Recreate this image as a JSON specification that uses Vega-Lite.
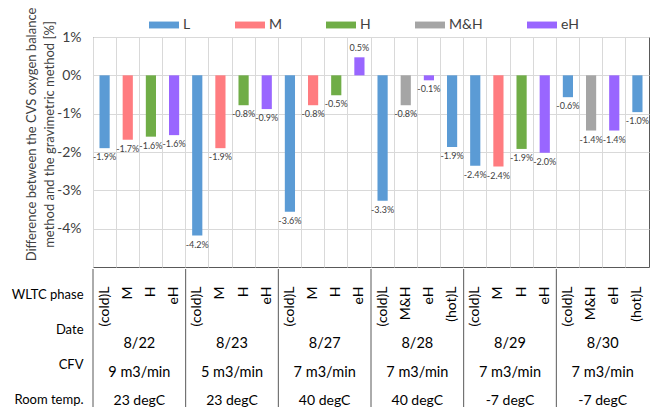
{
  "$schema": "https://vega.github.io/schema/vega-lite/v6.json",
  "padding": {"left": 11, "top": 6, "right": 5, "bottom": 0},
  "config": {
    "font": "Lato",
    "locale": {"number": {"decimal": ".", "thousands": ",", "grouping": [3], "currency": ["$", ""], "minus": "-"}},
    "view": {"stroke": "#595959", "strokeWidth": 1},
    "concat": {"spacing": 0}
  },
  "datasets": {
    "bars": [
      {"key": "8/22 (cold)L", "date": "8/22", "phase": "(cold)L", "cat": "L", "value": -0.0190},
      {"key": "8/22 M", "date": "8/22", "phase": "M", "cat": "M", "value": -0.0168},
      {"key": "8/22 H", "date": "8/22", "phase": "H", "cat": "H", "value": -0.0160},
      {"key": "8/22 eH", "date": "8/22", "phase": "eH", "cat": "eH", "value": -0.0156},
      {"key": "8/23 (cold)L", "date": "8/23", "phase": "(cold)L", "cat": "L", "value": -0.0418},
      {"key": "8/23 M", "date": "8/23", "phase": "M", "cat": "M", "value": -0.0190},
      {"key": "8/23 H", "date": "8/23", "phase": "H", "cat": "H", "value": -0.0078},
      {"key": "8/23 eH", "date": "8/23", "phase": "eH", "cat": "eH", "value": -0.0088},
      {"key": "8/27 (cold)L", "date": "8/27", "phase": "(cold)L", "cat": "L", "value": -0.0356},
      {"key": "8/27 M", "date": "8/27", "phase": "M", "cat": "M", "value": -0.0078},
      {"key": "8/27 H", "date": "8/27", "phase": "H", "cat": "H", "value": -0.0052},
      {"key": "8/27 eH", "date": "8/27", "phase": "eH", "cat": "eH", "value": 0.0047},
      {"key": "8/28 (cold)L", "date": "8/28", "phase": "(cold)L", "cat": "L", "value": -0.0327},
      {"key": "8/28 M&H", "date": "8/28", "phase": "M&H", "cat": "M&H", "value": -0.0078},
      {"key": "8/28 eH", "date": "8/28", "phase": "eH", "cat": "eH", "value": -0.0013},
      {"key": "8/28 (hot)L", "date": "8/28", "phase": "(hot)L", "cat": "L", "value": -0.0187},
      {"key": "8/29 (cold)L", "date": "8/29", "phase": "(cold)L", "cat": "L", "value": -0.0236},
      {"key": "8/29 M", "date": "8/29", "phase": "M", "cat": "M", "value": -0.0238},
      {"key": "8/29 H", "date": "8/29", "phase": "H", "cat": "H", "value": -0.0192},
      {"key": "8/29 eH", "date": "8/29", "phase": "eH", "cat": "eH", "value": -0.0202},
      {"key": "8/30 (cold)L", "date": "8/30", "phase": "(cold)L", "cat": "L", "value": -0.0057},
      {"key": "8/30 M&H", "date": "8/30", "phase": "M&H", "cat": "M&H", "value": -0.0144},
      {"key": "8/30 eH", "date": "8/30", "phase": "eH", "cat": "eH", "value": -0.0144},
      {"key": "8/30 (hot)L", "date": "8/30", "phase": "(hot)L", "cat": "L", "value": -0.0096}
    ],
    "groups": [
      {"date": "8/22", "cfv": "9  m3/min", "temp": "23 degC"},
      {"date": "8/23", "cfv": "5  m3/min", "temp": "23 degC"},
      {"date": "8/27", "cfv": "7  m3/min", "temp": "40 degC"},
      {"date": "8/28", "cfv": "7  m3/min", "temp": "40 degC"},
      {"date": "8/29", "cfv": "7  m3/min", "temp": "-7 degC"},
      {"date": "8/30", "cfv": "7  m3/min", "temp": "-7 degC"}
    ]
  },
  "vconcat": [
    {
      "width": 556,
      "height": 230,
      "data": {"name": "bars"},
      "encoding": {
        "x": {
          "field": "key", "type": "nominal", "sort": null,
          "scale": {"paddingInner": 0, "paddingOuter": 0},
          "axis": {"labels": false, "ticks": false, "domain": false, "grid": true, "bandPosition": 0, "gridColor": "#D9D9D9", "title": null}
        }
      },
      "layer": [
        {
          "mark": {"type": "bar", "width": {"band": 0.44}},
          "encoding": {
            "y": {
              "field": "value", "type": "quantitative",
              "scale": {"domain": [-0.05, 0.01], "nice": false, "zero": false},
              "axis": {
                "values": [0.01, 0, -0.01, -0.02, -0.03, -0.04],
                "format": ".0%",
                "grid": true, "gridColor": "#D9D9D9",
                "domain": false, "ticks": false,
                "labelFontSize": 14, "labelColor": "#404040", "labelPadding": 12,
                "title": ["Difference between the CVS oxygen balance", "method and the gravimetric method [%]"],
                "titleFontSize": 13, "titleFontWeight": "normal", "titleColor": "#404040",
                "titleLineHeight": 18.5, "titleAngle": 270, "titleAlign": "center", "titleBaseline": "top",
                "titleX": -68, "titleY": 97
              }
            },
            "color": {
              "field": "cat", "type": "nominal",
              "scale": {"domain": ["L", "M", "H", "M&H", "eH"], "range": ["#5B9BD5", "#FF7C80", "#70AD47", "#A5A5A5", "#9966FF"]},
              "legend": {
                "title": null, "orient": "none", "direction": "horizontal",
                "legendX": 56, "legendY": -27,
                "symbolType": "M-1,-0.23L1,-0.23L1,0.23L-1,0.23Z", "symbolSize": 900,
                "symbolStrokeWidth": 0, "symbolOpacity": 1,
                "labelFontSize": 14, "labelColor": "#404040", "labelOffset": 4,
                "columnPadding": 44
              }
            }
          }
        },
        {
          "mark": {"type": "rule", "color": "#595959", "strokeWidth": 1},
          "encoding": {"y": {"datum": 0}}
        },
        {
          "transform": [{"filter": "datum.value < 0"}],
          "mark": {"type": "text", "baseline": "top", "dy": 5, "fontSize": 9, "color": "#404040"},
          "encoding": {
            "y": {"field": "value", "type": "quantitative"},
            "text": {"field": "value", "type": "quantitative", "format": ".1%"}
          }
        },
        {
          "transform": [{"filter": "datum.value >= 0"}],
          "mark": {"type": "text", "baseline": "bottom", "dy": -4, "fontSize": 9, "color": "#404040"},
          "encoding": {
            "y": {"field": "value", "type": "quantitative"},
            "text": {"field": "value", "type": "quantitative", "format": ".1%"}
          }
        }
      ]
    },
    {
      "width": 556,
      "height": 140,
      "view": {"stroke": null},
      "layer": [
        {
          "data": {"name": "bars"},
          "mark": {"type": "text", "angle": 270, "align": "right", "baseline": "middle", "fontSize": 14, "color": "#000000"},
          "encoding": {
            "x": {"field": "key", "type": "nominal", "sort": null, "scale": {"paddingInner": 0, "paddingOuter": 0}, "axis": null},
            "y": {
              "datum": "WLTC phase", "type": "nominal", "bandPosition": 0.31,
              "scale": {"domain": ["WLTC phase", "Date", "CFV", "Room temp."], "paddingInner": 0, "paddingOuter": 0},
              "axis": {"title": null, "ticks": false, "domain": false, "labelFontSize": 13, "labelColor": "#000000", "labelPadding": 10, "labelOffset": 8}
            },
            "text": {"field": "phase"}
          }
        },
        {
          "data": {"name": "groups"},
          "mark": {"type": "rule", "color": "#595959", "strokeWidth": 1},
          "encoding": {
            "x": {"field": "date", "type": "nominal", "sort": null, "bandPosition": 0, "scale": {"paddingInner": 0, "paddingOuter": 0}, "axis": null}
          }
        },
        {
          "data": {"name": "groups"},
          "mark": {"type": "text", "dy": 22, "fontSize": 14.5, "color": "#000000"},
          "encoding": {
            "x": {"field": "date", "type": "nominal", "sort": null, "scale": {"paddingInner": 0, "paddingOuter": 0}, "axis": null},
            "y": {"datum": "Date", "type": "nominal"},
            "text": {"field": "date"}
          }
        },
        {
          "data": {"name": "groups"},
          "mark": {"type": "text", "dy": 16, "fontSize": 14.5, "color": "#000000"},
          "encoding": {
            "x": {"field": "date", "type": "nominal", "sort": null, "scale": {"paddingInner": 0, "paddingOuter": 0}, "axis": null},
            "y": {"datum": "CFV", "type": "nominal"},
            "text": {"field": "cfv"}
          }
        },
        {
          "data": {"name": "groups"},
          "mark": {"type": "text", "dy": 9, "fontSize": 14, "color": "#000000"},
          "encoding": {
            "x": {"field": "date", "type": "nominal", "sort": null, "scale": {"paddingInner": 0, "paddingOuter": 0}, "axis": null},
            "y": {"datum": "Room temp.", "type": "nominal"},
            "text": {"field": "temp"}
          }
        }
      ],
      "resolve": {"scale": {"x": "independent"}}
    }
  ]
}
